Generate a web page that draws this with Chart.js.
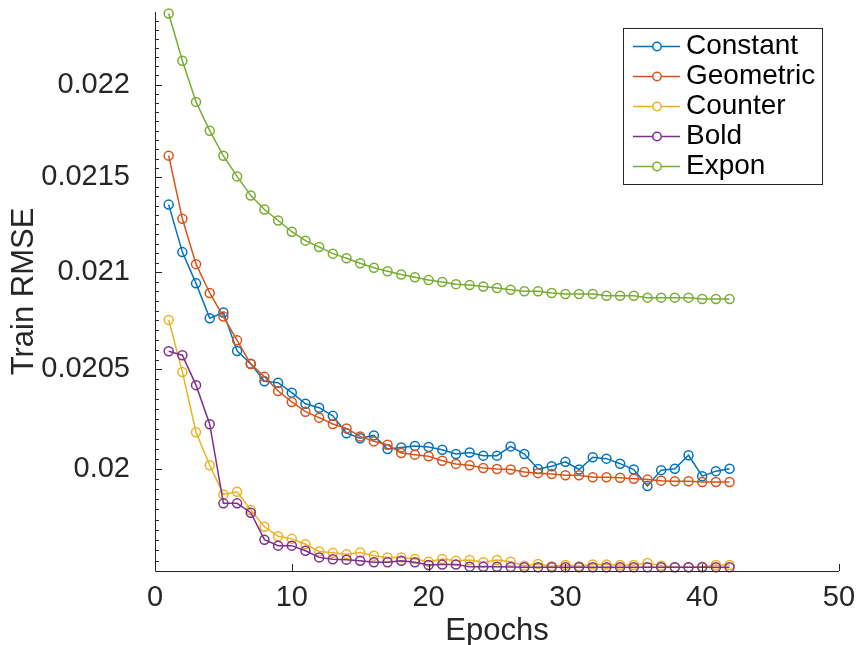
<!DOCTYPE html>
<html>
<head>
<meta charset="utf-8">
<title>Train RMSE</title>
<script src="https://cdn.jsdelivr.net/npm/chart.js@4.4.1/dist/chart.umd.min.js"></script>
<style>
  html, body { margin: 0; padding: 0; background: #fff; }
  #wrap { width: 858px; height: 645px; }
</style>
</head>
<body>
<div id="wrap"><canvas id="rmseChart" width="858" height="645"></canvas></div>
<script>
// ─── Data ─────────────────────────────────────────────
const epochs = [1, 2, 3, 4, 5, 6, 7, 8, 9, 10, 11, 12, 13, 14, 15, 16, 17, 18, 19, 20, 21,
                22, 23, 24, 25, 26, 27, 28, 29, 30, 31, 32, 33, 34, 35, 36, 37, 38, 39, 40, 41, 42];

const constant = [0.021355, 0.021105, 0.020942, 0.020762, 0.020791, 0.020594, 0.020528, 0.020440, 0.020432, 0.020382,
                  0.020326, 0.020306, 0.020265, 0.020178, 0.020153, 0.020167, 0.020099, 0.020107, 0.020114, 0.020109,
                  0.020095, 0.020074, 0.020082, 0.020066, 0.020066, 0.020112, 0.020074, 0.020000, 0.020013, 0.020035,
                  0.019997, 0.020058, 0.020051, 0.020026, 0.019997, 0.019915, 0.019994, 0.020001, 0.020068, 0.019964,
                  0.019989, 0.020001];

const geometric = [0.021616, 0.021280, 0.021042, 0.020892, 0.020770, 0.020648, 0.020527, 0.020462, 0.020390, 0.020335,
                   0.020286, 0.020256, 0.020224, 0.020202, 0.020162, 0.020137, 0.020120, 0.020079, 0.020071, 0.020063,
                   0.020041, 0.020025, 0.020018, 0.020005, 0.020000, 0.019997, 0.019985, 0.019979, 0.019975, 0.019969,
                   0.019969, 0.019959, 0.019959, 0.019956, 0.019951, 0.019947, 0.019942, 0.019939, 0.019939, 0.019935,
                   0.019935, 0.019935];

const counter = [0.020753, 0.020487, 0.020183, 0.020018, 0.019874, 0.019887, 0.019797, 0.019715, 0.019669, 0.019656,
                 0.019630, 0.019595, 0.019588, 0.019581, 0.019590, 0.019574, 0.019566, 0.019566, 0.019558, 0.019545,
                 0.019558, 0.019550, 0.019553, 0.019542, 0.019553, 0.019545, 0.019526, 0.019534, 0.019523, 0.019529,
                 0.019523, 0.019531, 0.019531, 0.019529, 0.019529, 0.019539, 0.019526, 0.019518, 0.019518, 0.019521,
                 0.019529, 0.019529];

const bold = [0.020592, 0.020572, 0.020420, 0.020223, 0.019830, 0.019830, 0.019784, 0.019652, 0.019623, 0.019623,
              0.019598, 0.019566, 0.019557, 0.019555, 0.019550, 0.019542, 0.019542, 0.019550, 0.019542, 0.019529,
              0.019531, 0.019531, 0.019521, 0.019520, 0.019520, 0.019519, 0.019518, 0.019518, 0.019518, 0.019518,
              0.019518, 0.019518, 0.019518, 0.019518, 0.019518, 0.019518, 0.019518, 0.019518, 0.019518, 0.019518,
              0.019518, 0.019518];

const expon = [0.022392, 0.022131, 0.021906, 0.021750, 0.021615, 0.021505, 0.021403, 0.021329, 0.021271, 0.021212,
               0.021165, 0.021132, 0.021097, 0.021073, 0.021047, 0.021023, 0.021005, 0.020988, 0.020974, 0.020959,
               0.020949, 0.020938, 0.020933, 0.020926, 0.020918, 0.020909, 0.020901, 0.020901, 0.020892, 0.020887,
               0.020887, 0.020887, 0.020878, 0.020878, 0.020878, 0.020868, 0.020868, 0.020868, 0.020868, 0.020861,
               0.020861, 0.020861];

const seriesNames = ['Constant', 'Geometric', 'Counter', 'Bold', 'Expon'];
const seriesValues = [constant, geometric, counter, bold, expon];
const seriesColors = ['#0072BD', '#D95319', '#EDB120', '#7E2F8E', '#77AC30'];

const xTicks = [0, 10, 20, 30, 40, 50];
const yTicks = [0.02, 0.0205, 0.021, 0.0215, 0.022];
const yTickLabels = ['0.02', '0.0205', '0.021', '0.0215', '0.022'];

// ─── Styling ──────────────────────────────────────────
const FONT = "'Liberation Sans', Arial, Helvetica, sans-serif";
const AXIS = '#262626';
const Y_MIN = 0.0195, Y_MAX = 0.0224, Y_MINOR = 0.00005;

// Axes drawn MATLAB-style: left + bottom line, ticks pointing inwards
const axesPlugin = {
    id: 'matlabAxes',
    afterDatasetsDraw(chart) {
        const { ctx: c, chartArea: a, scales: { x, y } } = chart;
        c.save();
        c.strokeStyle = AXIS;
        c.lineWidth = 1;
        c.beginPath();
        c.moveTo(a.left + 0.5, a.top);
        c.lineTo(a.left + 0.5, a.bottom + 0.5);
        c.lineTo(a.right, a.bottom + 0.5);
        xTicks.forEach(v => {
            const px = Math.round(x.getPixelForValue(v)) + 0.5;
            c.moveTo(px, a.bottom);
            c.lineTo(px, a.bottom - 7);
        });
        yTicks.forEach(v => {
            const py = Math.round(y.getPixelForValue(v)) + 0.5;
            c.moveTo(a.left, py);
            c.lineTo(a.left + 7, py);
        });
        const nMinor = Math.round((Y_MAX - Y_MIN) / Y_MINOR);
        for (let k = 1; k < nMinor; k++) {
            const py = Math.round(y.getPixelForValue(Y_MIN + k * Y_MINOR)) + 0.5;
            c.moveTo(a.left, py);
            c.lineTo(a.left + 4, py);
        }
        c.stroke();
        c.restore();
    }
};

// Boxed legend in the upper right, like the figure
const legendPlugin = {
    id: 'boxLegend',
    afterDraw(chart) {
        const c = chart.ctx;
        c.save();
        c.fillStyle = '#fff';
        c.fillRect(623.5, 28.5, 199, 156);
        c.strokeStyle = AXIS;
        c.lineWidth = 1;
        c.strokeRect(623.5, 28.5, 199, 156);
        chart.data.datasets.forEach((ds, i) => {
            const y = 46.5 + i * 30;
            c.strokeStyle = ds.borderColor;
            c.lineWidth = 1.5;
            c.beginPath();
            c.moveTo(633, y);
            c.lineTo(680, y);
            c.stroke();
            c.beginPath();
            c.arc(657, y, 4.2, 0, Math.PI * 2);
            c.fillStyle = '#fff';
            c.fill();
            c.stroke();
            c.fillStyle = '#000';
            c.font = '28px ' + FONT;
            c.textBaseline = 'middle';
            c.textAlign = 'left';
            c.fillText(ds.label, 686, y);
        });
        c.restore();
    }
};

const noPad = s => { s.paddingTop = 0; s.paddingBottom = 0; s.paddingLeft = 0; s.paddingRight = 0; };

new Chart(document.getElementById('rmseChart').getContext('2d'), {
    type: 'line',
    data: {
        datasets: seriesNames.map((name, i) => ({
            label: name,
            data: epochs.map((e, k) => ({ x: e, y: seriesValues[i][k] })),
            borderColor: seriesColors[i],
            backgroundColor: seriesColors[i],
            pointBorderColor: seriesColors[i],
            pointBackgroundColor: 'rgba(0,0,0,0)',
            pointRadius: 4.5,
            pointBorderWidth: 1.5,
            borderWidth: 1.5,
            tension: 0,
            clip: false,
            order: seriesNames.length - i   // later series on top
        }))
    },
    options: {
        responsive: false,
        devicePixelRatio: 1,
        animation: false,
        layout: { padding: { top: 12, right: 19, left: 0, bottom: 0 } },
        plugins: {
            legend: { display: false },
            tooltip: { enabled: false }
        },
        scales: {
            x: {
                type: 'linear',
                min: 0,
                max: 50,
                grid: { display: false },
                border: { display: false },
                afterBuildTicks: s => { s.ticks = xTicks.map(v => ({ value: v })); },
                ticks: {
                    color: AXIS,
                    font: { family: FONT, size: 29, lineHeight: 1.2 },
                    padding: 2,
                    maxRotation: 0,
                    autoSkip: false,
                    callback: v => String(v)
                },
                title: {
                    display: true,
                    text: 'Epochs',
                    color: AXIS,
                    font: { family: FONT, size: 31, lineHeight: 0.9 },
                    padding: { top: 0, bottom: 0 }
                },
                afterFit: s => { s.height = 74; noPad(s); }
            },
            y: {
                type: 'logarithmic',
                min: Y_MIN,
                max: Y_MAX,
                bounds: 'data',
                grid: { display: false },
                border: { display: false },
                afterBuildTicks: s => { s.ticks = yTicks.map(v => ({ value: v })); },
                ticks: {
                    color: AXIS,
                    font: { family: FONT, size: 29, lineHeight: 1.2 },
                    padding: 17,
                    autoSkip: false,
                    callback: v => yTickLabels[yTicks.indexOf(v)]
                },
                title: {
                    display: true,
                    text: 'Train RMSE',
                    color: AXIS,
                    font: { family: FONT, size: 31, lineHeight: 1 },
                    padding: { top: 9, bottom: 0 }
                },
                afterFit: s => { s.width = 155; noPad(s); }
            }
        }
    },
    plugins: [axesPlugin, legendPlugin]
});
</script>
</body>
</html>
